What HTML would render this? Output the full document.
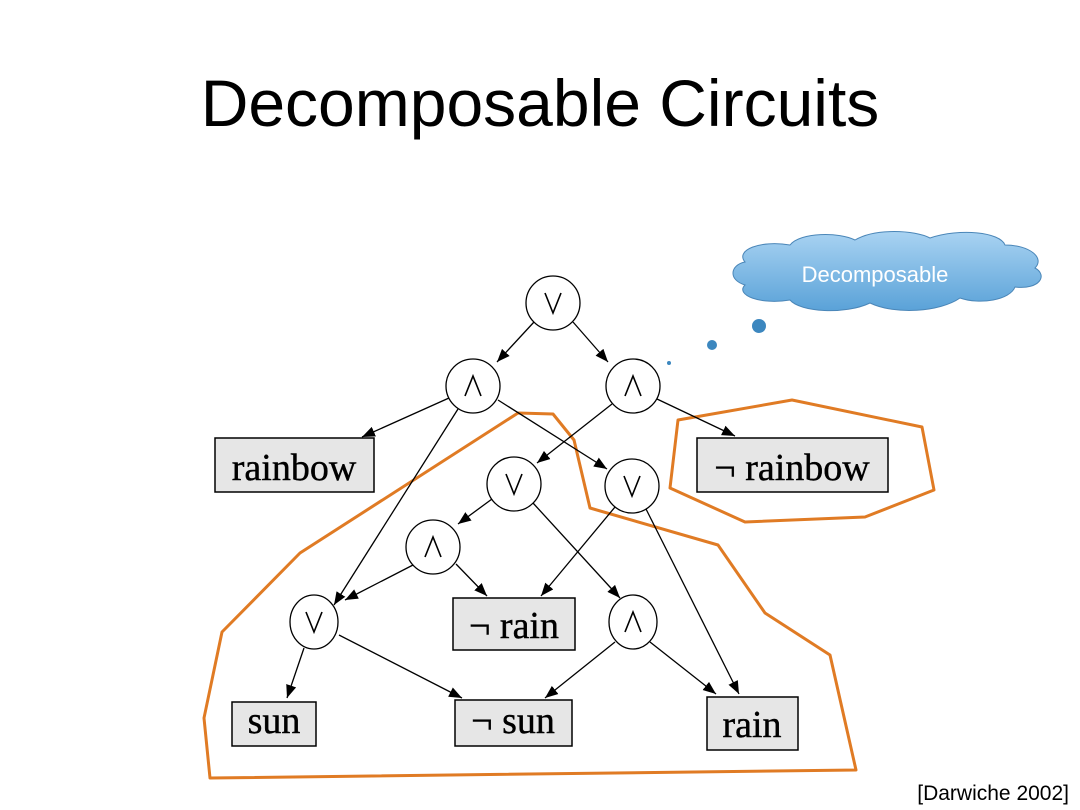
<!DOCTYPE html>
<html><head><meta charset="utf-8"><style>
html,body{margin:0;padding:0;background:#fff;width:1080px;height:810px;overflow:hidden}
</style></head><body>
<svg width="1080" height="810" viewBox="0 0 1080 810" xmlns="http://www.w3.org/2000/svg">
<defs>
<marker id="a" viewBox="0 0 10 10" refX="10" refY="5" markerWidth="13" markerHeight="13" markerUnits="userSpaceOnUse" orient="auto"><path d="M0,1 L10,5 L0,9 z" fill="#000"/></marker>
<linearGradient id="cg" x1="0" y1="0" x2="0" y2="1"><stop offset="0" stop-color="#a9d3f2"/><stop offset="1" stop-color="#5aa2d8"/></linearGradient>
</defs>
<text x="540" y="126" font-family="Liberation Sans, sans-serif" font-size="66" text-anchor="middle" fill="#000">Decomposable Circuits</text>

<g fill="url(#cg)" stroke="#4a86b8" stroke-width="1">
<path d="M745,262 C735,250 760,240 790,245 C800,232 840,232 855,240 C875,228 915,230 930,238 C960,228 1000,232 1005,245 C1030,245 1045,258 1035,268 C1048,275 1040,290 1015,287 C1010,300 980,305 960,298 C940,312 895,315 870,303 C845,315 800,312 790,300 C760,305 735,295 745,285 C728,280 730,265 745,262 Z"/>
</g>
<text x="875" y="282" font-family="Liberation Sans, sans-serif" font-size="22" fill="#fff" text-anchor="middle">Decomposable</text>
<circle cx="759" cy="326" r="7" fill="#3c87bf"/>
<circle cx="712" cy="345" r="5" fill="#3c87bf"/>
<circle cx="669" cy="363" r="2" fill="#3c87bf"/>

<g fill="none" stroke="#e07b24" stroke-width="3" stroke-linejoin="round">
<path d="M210,778 L204,718 L222,632 L300,553 L518,413 L553,414 L574,440 L590,508 L718,545 L765,613 L830,655 L856,770 Z"/>
<path d="M678,420 L792,400 L922,427 L934,490 L865,517 L745,522 L670,488 Z"/>
</g>

<g fill="#e6e6e6" stroke="#000" stroke-width="1.5">
<rect x="215" y="438" width="159" height="54"/>
<rect x="697" y="438" width="191" height="54"/>
<rect x="453" y="598" width="122" height="52"/>
<rect x="232" y="702" width="84" height="44"/>
<rect x="455" y="700" width="117" height="46"/>
<rect x="707" y="697" width="91" height="53"/>
</g>
<g font-family="Liberation Serif, serif" font-size="38" fill="#000" text-anchor="middle" stroke="#000" stroke-width="0.4">
<text x="294" y="480">rainbow</text>
<text x="792" y="480">¬ rainbow</text>
<text x="514" y="638">¬ rain</text>
<text x="274" y="733">sun</text>
<text x="513" y="733">¬ sun</text>
<text x="752" y="737">rain</text>
</g>

<g stroke="#000" stroke-width="1.3" marker-end="url(#a)">
<line x1="534" y1="322" x2="497" y2="362"/>
<line x1="573" y1="322" x2="608" y2="362"/>
<line x1="449" y1="398" x2="362" y2="437"/>
<line x1="458" y1="409" x2="334" y2="605"/>
<line x1="498" y1="400" x2="607" y2="469"/>
<line x1="612" y1="404" x2="537" y2="463"/>
<line x1="657" y1="399" x2="735" y2="436"/>
<line x1="492" y1="499" x2="458" y2="524"/>
<line x1="533" y1="503" x2="620" y2="598"/>
<line x1="615" y1="507" x2="541" y2="596"/>
<line x1="646" y1="509" x2="739" y2="694"/>
<line x1="413" y1="565" x2="345" y2="600"/>
<line x1="456" y1="564" x2="487" y2="596"/>
<line x1="339" y1="635" x2="462" y2="698"/>
<line x1="304" y1="648" x2="287" y2="698"/>
<line x1="615" y1="642" x2="545" y2="698"/>
<line x1="650" y1="642" x2="716" y2="694"/>
</g>

<g fill="#fff" stroke="#000" stroke-width="1.3">
<circle cx="553" cy="303" r="27"/>
<circle cx="473" cy="386" r="27"/>
<circle cx="633" cy="386" r="27"/>
<circle cx="514" cy="484" r="27"/>
<circle cx="632" cy="486" r="27"/>
<circle cx="433" cy="547" r="27"/>
<ellipse cx="314" cy="622" rx="24" ry="27"/>
<ellipse cx="633" cy="622" rx="24" ry="27"/>
</g>
<g fill="none" stroke="#000" stroke-width="1.6">
<path d="M545,293 L553,313 L561,293"/>
<path d="M465,396 L473,376 L481,396"/>
<path d="M625,396 L633,376 L641,396"/>
<path d="M506,474 L514,494 L522,474"/>
<path d="M624,476 L632,496 L640,476"/>
<path d="M425,557 L433,537 L441,557"/>
<path d="M306,612 L314,632 L322,612"/>
<path d="M625,632 L633,612 L641,632"/>
</g>

<text x="1069" y="800" font-family="Liberation Sans, sans-serif" font-size="21" text-anchor="end" fill="#000">[Darwiche 2002]</text>
</svg>
</body></html>
